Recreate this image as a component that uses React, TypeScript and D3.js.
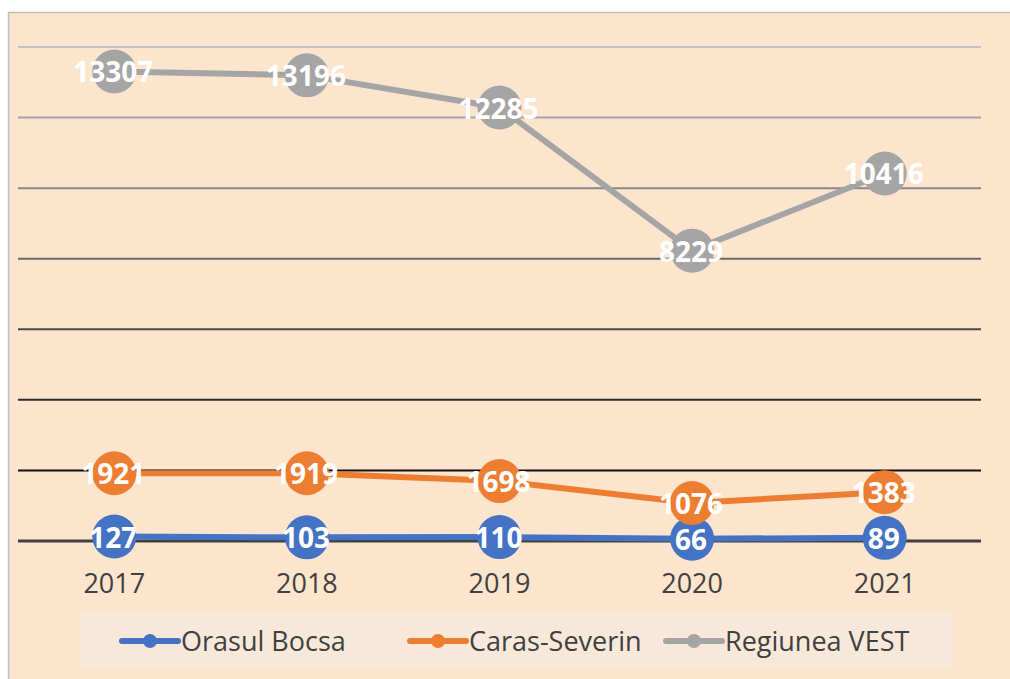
import * as d3 from 'd3';

const years = ['2017', '2018', '2019', '2020', '2021'];
const bocsa = [127, 103, 110, 66, 89];
const carasSeverin = [1921, 1919, 1698, 1076, 1383];
const regiuneaVest = [13307, 13196, 12285, 8229, 10416];

const seriesNames = ['Orasul Bocsa', 'Caras-Severin', 'Regiunea VEST'];
const seriesColors = ['#4472C4', '#ED7D31', '#A5A5A5'];

const W = 1010;
const H = 679;
const FONT = "'Open Sans', 'Liberation Sans', sans-serif";

export default function App() {
  const series = [bocsa, carasSeverin, regiuneaVest];

  const x = d3.scalePoint<string>().domain(years).range([18, 981]).padding(0.5);
  const y = d3.scaleLinear().domain([0, 14000]).range([541, 47]);
  const ticks = y.ticks(7);

  // gridlines get darker towards the bottom
  const gridColor = d3.scaleLinear<string>().domain([14000, 2000]).range(['#c2c2c2', '#101010']);

  const line = d3.line<number>()
    .x((_, i) => x(years[i]) as number)
    .y(d => y(d));

  // legend item positions
  const legendItems = [122, 410, 666];

  return (
    <svg width={W} height={H} style={{ position: 'absolute', left: 0, top: 0 }}>
      <rect x={0} y={0} width={W} height={H} fill="#fff" />
      <rect x={8.5} y={12.5} width={W + 10} height={H + 10} fill="#FCE4CD" stroke="#BFBFBF" strokeWidth={1.5} />

      {ticks.filter(t => t > 0).map(t => (
        <line key={t} x1={18} x2={981} y1={y(t)} y2={y(t)} stroke={gridColor(t)} strokeWidth={2} />
      ))}
      <line x1={18} x2={981} y1={y(0)} y2={y(0)} stroke="#404040" strokeWidth={3} />

      {years.map(yr => (
        <text key={yr} x={x(yr)} y={593} textAnchor="middle" fontFamily={FONT} fontSize={27} fill="#404040">{yr}</text>
      ))}

      {series.map((s, si) => (
        <g key={si}>
          <path d={line(s) || ''} fill="none" stroke={seriesColors[si]} strokeWidth={6} strokeLinejoin="round" />
          {s.map((v, i) => (
            <circle key={i} cx={x(years[i])} cy={y(v)} r={22} fill={seriesColors[si]} />
          ))}
        </g>
      ))}

      {series.map((s, si) => (
        <g key={'l' + si}>
          {s.map((v, i) => (
            <text key={i} x={(x(years[i]) as number) - 1} y={y(v) + 11} textAnchor="middle"
              fontFamily={FONT} fontSize={28} fontWeight="bold" fill="#fff">{v}</text>
          ))}
        </g>
      ))}

      <rect x={80} y={613} width={873} height={55} fill="#F7E8DA" />
      {seriesNames.map((name, si) => (
        <g key={name} transform={`translate(${legendItems[si]},641)`}>
          <line x1={0} x2={56} y1={0} y2={0} stroke={seriesColors[si]} strokeWidth={6} strokeLinecap="round" />
          <circle cx={28} cy={0} r={7} fill={seriesColors[si]} />
          <text x={59} y={9.5} fontFamily={FONT} fontSize={27} fill="#404040">{name}</text>
        </g>
      ))}
    </svg>
  );
}
